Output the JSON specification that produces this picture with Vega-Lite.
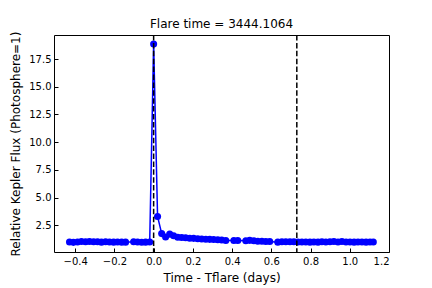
{
  "$schema": "https://vega.github.io/schema/vega-lite/v6.json",
  "width": 335,
  "height": 217,
  "autosize": "none",
  "padding": {"left": 54, "top": 35, "right": 43, "bottom": 36},
  "title": {"text": "Flare time = 3444.1064", "font": "DejaVu Sans", "fontSize": 12, "fontWeight": "normal", "color": "black", "offset": 0},
  "config": {
    "view": {"stroke": "black", "strokeWidth": 1},
    "axis": {
      "labelFont": "DejaVu Sans", "labelFontSize": 10, "labelColor": "black",
      "titleFont": "DejaVu Sans", "titleFontSize": 12, "titleFontWeight": "normal", "titleColor": "black",
      "grid": false, "domain": false, "tickColor": "black", "tickSize": -4, "tickWidth": 1
    }
  },
  "datasets": {
    "flux": [
      {"t": -0.429, "f": 1.00}, {"t": -0.409, "f": 0.96}, {"t": -0.388, "f": 1.00}, {"t": -0.368, "f": 1.03},
      {"t": -0.347, "f": 1.02}, {"t": -0.327, "f": 1.03}, {"t": -0.306, "f": 1.02}, {"t": -0.286, "f": 1.01},
      {"t": -0.266, "f": 0.98}, {"t": -0.245, "f": 1.01}, {"t": -0.225, "f": 0.99}, {"t": -0.204, "f": 0.98},
      {"t": -0.184, "f": 0.99}, {"t": -0.163, "f": 0.98}, {"t": -0.143, "f": 0.98},
      {"t": -0.102, "f": 1.02}, {"t": -0.082, "f": 0.99}, {"t": -0.061, "f": 0.97}, {"t": -0.041, "f": 0.98},
      {"t": -0.020, "f": 1.00}, {"t": 0.000, "f": 18.85}, {"t": 0.020, "f": 3.30}, {"t": 0.041, "f": 1.75},
      {"t": 0.061, "f": 1.45}, {"t": 0.082, "f": 1.70}, {"t": 0.102, "f": 1.55}, {"t": 0.123, "f": 1.42},
      {"t": 0.143, "f": 1.40}, {"t": 0.163, "f": 1.38}, {"t": 0.184, "f": 1.33}, {"t": 0.204, "f": 1.32},
      {"t": 0.225, "f": 1.28}, {"t": 0.245, "f": 1.27}, {"t": 0.266, "f": 1.24}, {"t": 0.286, "f": 1.23},
      {"t": 0.306, "f": 1.22}, {"t": 0.327, "f": 1.20}, {"t": 0.347, "f": 1.18}, {"t": 0.368, "f": 1.12},
      {"t": 0.409, "f": 1.13}, {"t": 0.429, "f": 1.12},
      {"t": 0.470, "f": 1.10}, {"t": 0.490, "f": 1.14}, {"t": 0.511, "f": 1.10}, {"t": 0.531, "f": 1.06},
      {"t": 0.552, "f": 1.06}, {"t": 0.572, "f": 1.04}, {"t": 0.592, "f": 1.04},
      {"t": 0.633, "f": 0.98}, {"t": 0.654, "f": 1.02}, {"t": 0.674, "f": 1.02}, {"t": 0.695, "f": 1.02},
      {"t": 0.715, "f": 1.01}, {"t": 0.736, "f": 1.00}, {"t": 0.756, "f": 0.99}, {"t": 0.776, "f": 1.00},
      {"t": 0.797, "f": 0.98}, {"t": 0.817, "f": 0.99}, {"t": 0.838, "f": 0.98}, {"t": 0.858, "f": 1.02},
      {"t": 0.878, "f": 0.99}, {"t": 0.899, "f": 1.02}, {"t": 0.919, "f": 1.03}, {"t": 0.940, "f": 0.99},
      {"t": 0.960, "f": 1.03}, {"t": 0.981, "f": 0.99}, {"t": 1.001, "f": 0.99}, {"t": 1.022, "f": 0.98},
      {"t": 1.042, "f": 0.99}, {"t": 1.062, "f": 0.99}, {"t": 1.083, "f": 0.98}, {"t": 1.103, "f": 0.99},
      {"t": 1.12, "f": 0.99}
    ],
    "marks": [{"t": 0.0}, {"t": 0.73}]
  },
  "layer": [
    {
      "data": {"name": "flux"},
      "mark": {"type": "line", "color": "#0000ff", "strokeWidth": 1.5, "point": {"filled": true, "color": "#0000ff", "size": 50, "opacity": 1}},
      "encoding": {
        "x": {"field": "t", "type": "quantitative", "scale": {"domain": [-0.508, 1.2], "nice": false, "zero": false},
              "axis": {"values": [-0.4, -0.2, 0.0, 0.2, 0.4, 0.6, 0.8, 1.0, 1.2], "format": ".1f", "labelPadding": 8, "title": "Time - Tflare (days)", "titlePadding": 6}},
        "y": {"field": "f", "type": "quantitative", "scale": {"domain": [0.09, 19.67], "nice": false, "zero": false},
              "axis": {"values": [2.5, 5.0, 7.5, 10.0, 12.5, 15.0, 17.5], "format": ".1f", "labelPadding": 7, "title": "Relative Kepler Flux (Photosphere=1)", "titlePadding": 6}}
      }
    },
    {
      "data": {"name": "marks"},
      "mark": {"type": "rule", "color": "black", "strokeWidth": 1.5, "strokeDash": [5.5, 2.4]},
      "encoding": {"x": {"field": "t", "type": "quantitative"}}
    }
  ]
}
